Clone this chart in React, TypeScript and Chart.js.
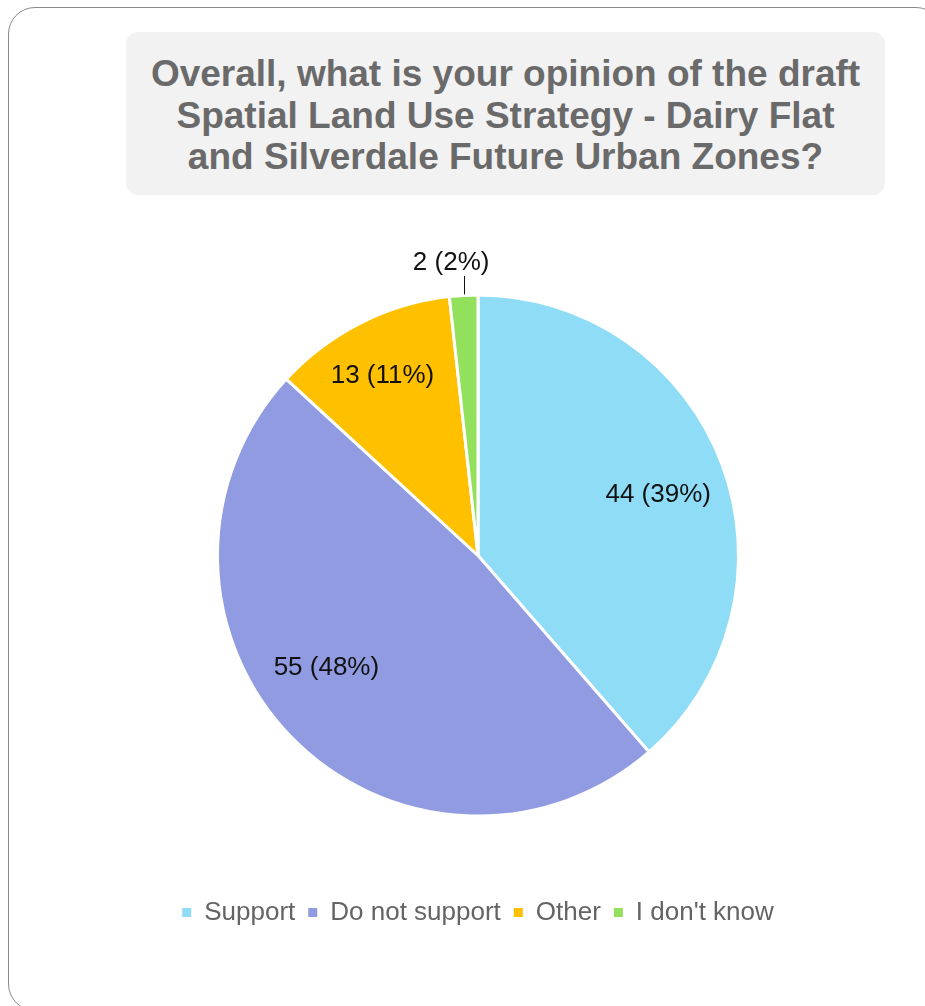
import React, { useEffect, useRef } from "react";
import { Chart, registerables } from "chart.js";

Chart.register(...registerables);

const titleLines = [
  "Overall, what is your opinion of the draft",
  "Spatial Land Use Strategy - Dairy Flat",
  "and Silverdale Future Urban Zones?",
];
const categories = ["Support", "Do not support", "Other", "I don't know"];
const counts = [44, 55, 13, 2];
const sliceColors = ["#8FDCF7", "#909BE1", "#FFC000", "#92E05B"];

const FONT = '"Liberation Sans", Arial, Helvetica, sans-serif';

const labelPlugin = {
  id: "sliceLabels",
  afterDatasetsDraw(chart: any, _args: any, opts: any) {
    const ctx = chart.ctx as CanvasRenderingContext2D;
    const meta = chart.getDatasetMeta(0);
    const data = chart.data.datasets[0].data as number[];
    const total = data.reduce((a, b) => a + b, 0);
    ctx.save();
    ctx.font = `${opts.size}px ${FONT}`;
    ctx.fillStyle = opts.color;
    ctx.textAlign = "center";
    ctx.textBaseline = "middle";
    meta.data.forEach((arc: any, i: number) => {
      const { x, y, startAngle, endAngle, outerRadius } = arc.getProps(
        ["x", "y", "startAngle", "endAngle", "outerRadius"],
        true
      );
      const text = `${data[i]} (${Math.round((data[i] / total) * 100)}%)`;
      const mid = (startAngle + endAngle) / 2;
      const place = opts.placement[i];
      if (place.outside) {
        const ex = x + Math.cos(mid) * outerRadius;
        const ey = y + Math.sin(mid) * outerRadius;
        const lx = Math.round(ex) + 0.5;
        ctx.strokeStyle = opts.color;
        ctx.lineWidth = 1;
        ctx.beginPath();
        ctx.moveTo(lx, ey - 1);
        ctx.lineTo(lx, ey - place.leader);
        ctx.stroke();
        ctx.fillText(text, ex + place.dx, ey - place.leader - place.gap);
      } else {
        const a = mid + (place.da * Math.PI) / 180;
        const r = outerRadius * place.rf;
        ctx.fillText(text, x + Math.cos(a) * r, y + Math.sin(a) * r);
      }
    });
    ctx.restore();
  },
};

export default function App() {
  const canvasRef = useRef<HTMLCanvasElement | null>(null);

  useEffect(() => {
    if (!canvasRef.current) return;
    const defaultLabels = (Chart as any).overrides.pie.plugins.legend.labels.generateLabels;
    const chart = new Chart(canvasRef.current, {
      type: "pie",
      data: {
        labels: categories,
        datasets: [
          {
            data: counts,
            backgroundColor: sliceColors,
            borderColor: "#ffffff",
            borderWidth: 3,
          },
        ],
      },
      options: {
        responsive: false,
        animation: false,
        events: [],
        radius: 260.5,
        layout: {
          padding: { left: 31, right: 0, top: 224.5, bottom: 70.5 },
        },
        plugins: {
          tooltip: { enabled: false },
          title: { display: false },
          legend: {
            display: true,
            position: "bottom",
            labels: {
              boxWidth: 9,
              boxHeight: 9,
              padding: 13,
              color: "#646464",
              font: { size: 26, family: FONT },
              generateLabels: (c: any) =>
                defaultLabels(c).map((l: any) => ({ ...l, lineWidth: 0, strokeStyle: "rgba(0,0,0,0)" })),
            },
          },
          sliceLabels: {
            size: 26,
            color: "#111111",
            placement: [
              { da: 1.9, rf: 0.73 },
              { da: 7.6, rf: 0.725 },
              { da: -1.2, rf: 0.78 },
              { outside: true, leader: 19.5, gap: 13, dx: -12.5 },
            ],
          },
        } as any,
      } as any,
      plugins: [labelPlugin],
    });
    return () => chart.destroy();
  }, []);

  return (
    <div
      style={{
        position: "fixed",
        left: 0,
        top: 0,
        width: 925,
        height: 1006,
        overflow: "hidden",
        background: "#ffffff",
      }}
    >
      <div
        style={{
          position: "absolute",
          left: 8,
          top: 7,
          width: 935,
          height: 1004,
          border: "1.5px solid #8a8a8a",
          borderRadius: 27,
          boxSizing: "border-box",
        }}
      />
      <div
        style={{
          position: "absolute",
          left: 126,
          top: 32,
          width: 759,
          height: 163,
          background: "#F2F2F2",
          borderRadius: 12,
          boxSizing: "border-box",
          paddingTop: 21,
          textAlign: "center",
          fontFamily: FONT,
          fontWeight: "bold",
          fontSize: 37,
          lineHeight: "41.5px",
          color: "#6a6a6a",
          whiteSpace: "nowrap",
        }}
      >
        {titleLines.map((l, i) => (
          <div key={i}>{l}</div>
        ))}
      </div>
      <canvas
        ref={canvasRef}
        width={925}
        height={1006}
        style={{ position: "absolute", left: 0, top: 0, width: 925, height: 1006 }}
      />
    </div>
  );
}
